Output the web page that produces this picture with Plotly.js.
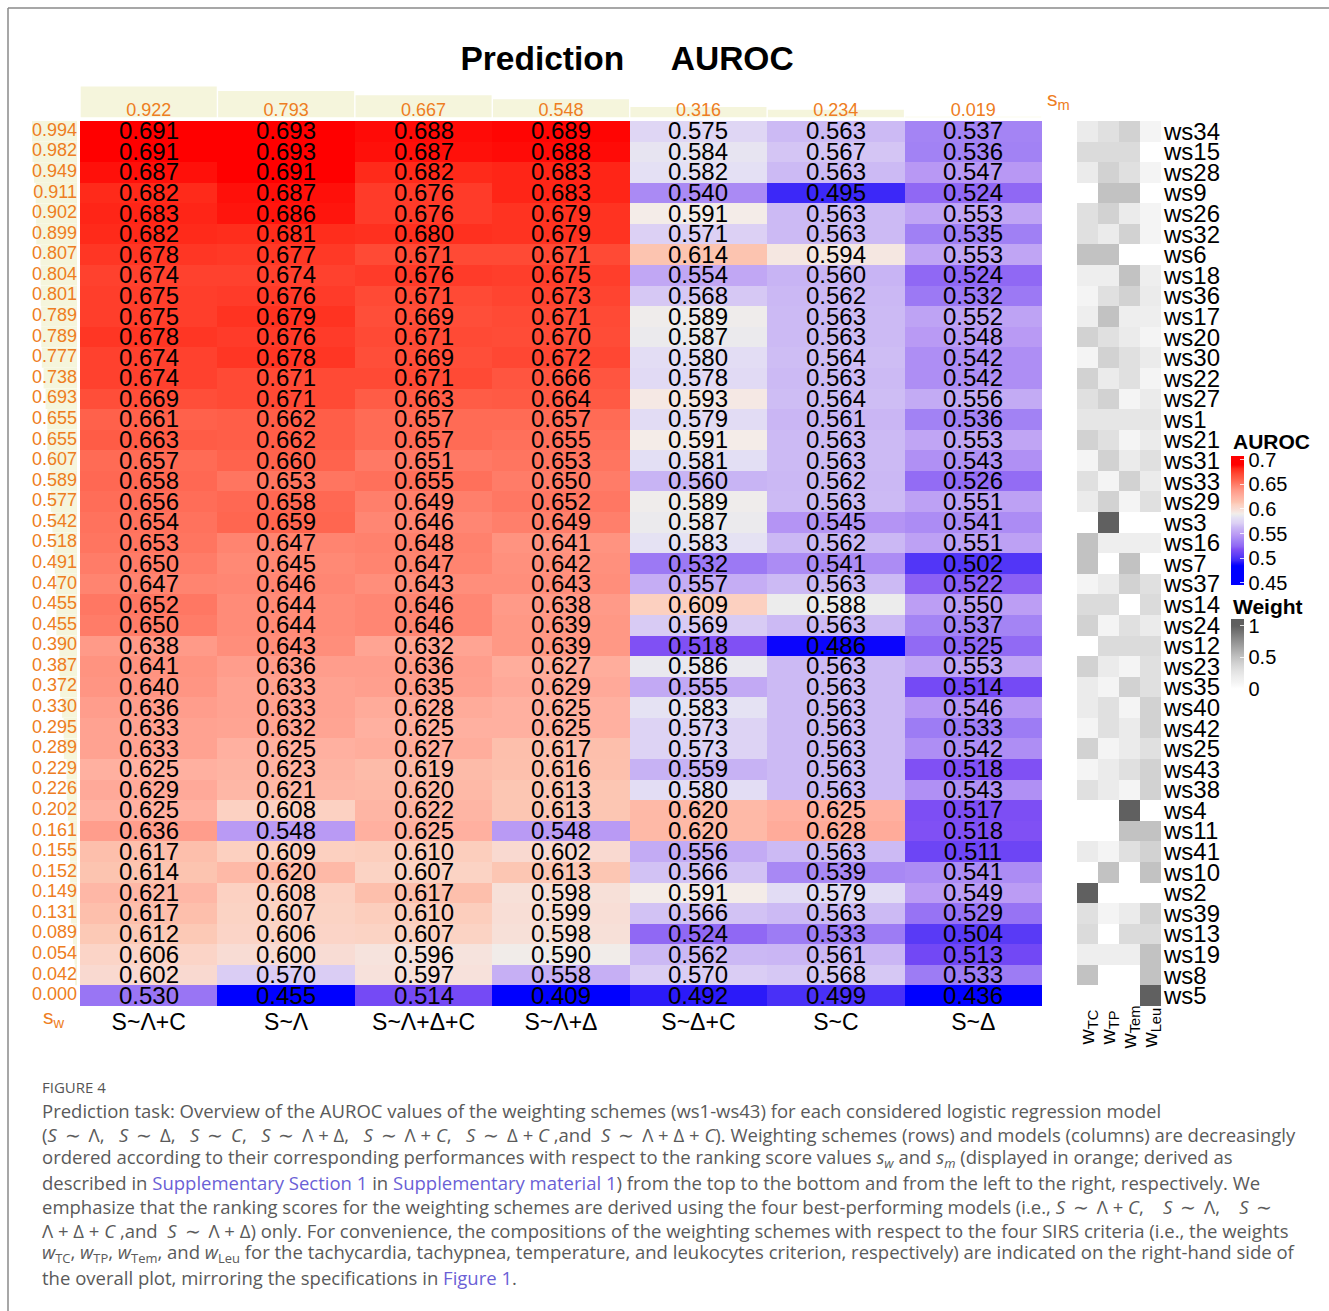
<!DOCTYPE html>
<html><head><meta charset="utf-8">
<script src="https://cdn.plot.ly/plotly-3.0.1.min.js"></script>
<style>html,body{margin:0;padding:0;background:#fff;} #chart{width:1329px;height:1311px;}</style>
</head><body><div id="chart"></div>
<script>
// ---------------- DATA ----------------
const models = ['S~Λ+C','S~Λ','S~Λ+Δ+C','S~Λ+Δ','S~Δ+C','S~C','S~Δ'];
const sm = [0.922,0.793,0.667,0.548,0.316,0.234,0.019];
const schemes = ['ws34','ws15','ws28','ws9','ws26','ws32','ws6','ws18','ws36','ws17','ws20','ws30','ws22','ws27','ws1','ws21','ws31','ws33','ws29','ws3','ws16','ws7','ws37','ws14','ws24','ws12','ws23','ws35','ws40','ws42','ws25','ws43','ws38','ws4','ws11','ws41','ws10','ws2','ws39','ws13','ws19','ws8','ws5'];
const sw = [0.994,0.982,0.949,0.911,0.902,0.899,0.807,0.804,0.801,0.789,0.789,0.777,0.738,0.693,0.655,0.655,0.607,0.589,0.577,0.542,0.518,0.491,0.470,0.455,0.455,0.390,0.387,0.372,0.330,0.295,0.289,0.229,0.226,0.202,0.161,0.155,0.152,0.149,0.131,0.089,0.054,0.042,0.000];
const aurocLC  = [0.691,0.691,0.687,0.682,0.683,0.682,0.678,0.674,0.675,0.675,0.678,0.674,0.674,0.669,0.661,0.663,0.657,0.658,0.656,0.654,0.653,0.650,0.647,0.652,0.650,0.638,0.641,0.640,0.636,0.633,0.633,0.625,0.629,0.625,0.636,0.617,0.614,0.621,0.617,0.612,0.606,0.602,0.530];
const aurocL   = [0.693,0.693,0.691,0.687,0.686,0.681,0.677,0.674,0.676,0.679,0.676,0.678,0.671,0.671,0.662,0.662,0.660,0.653,0.658,0.659,0.647,0.645,0.646,0.644,0.644,0.643,0.636,0.633,0.633,0.632,0.625,0.623,0.621,0.608,0.548,0.609,0.620,0.608,0.607,0.606,0.600,0.570,0.455];
const aurocLDC = [0.688,0.687,0.682,0.676,0.676,0.680,0.671,0.676,0.671,0.669,0.671,0.669,0.671,0.663,0.657,0.657,0.651,0.655,0.649,0.646,0.648,0.647,0.643,0.646,0.646,0.632,0.636,0.635,0.628,0.625,0.627,0.619,0.620,0.622,0.625,0.610,0.607,0.617,0.610,0.607,0.596,0.597,0.514];
const aurocLD  = [0.689,0.688,0.683,0.683,0.679,0.679,0.671,0.675,0.673,0.671,0.670,0.672,0.666,0.664,0.657,0.655,0.653,0.650,0.652,0.649,0.641,0.642,0.643,0.638,0.639,0.639,0.627,0.629,0.625,0.625,0.617,0.616,0.613,0.613,0.548,0.602,0.613,0.598,0.599,0.598,0.590,0.558,0.409];
const aurocDC  = [0.575,0.584,0.582,0.540,0.591,0.571,0.614,0.554,0.568,0.589,0.587,0.580,0.578,0.593,0.579,0.591,0.581,0.560,0.589,0.587,0.583,0.532,0.557,0.609,0.569,0.518,0.586,0.555,0.583,0.573,0.573,0.559,0.580,0.620,0.620,0.556,0.566,0.591,0.566,0.524,0.562,0.570,0.492];
const aurocC   = [0.563,0.567,0.563,0.495,0.563,0.563,0.594,0.560,0.562,0.563,0.563,0.564,0.563,0.564,0.561,0.563,0.563,0.562,0.563,0.545,0.562,0.541,0.563,0.588,0.563,0.486,0.563,0.563,0.563,0.563,0.563,0.563,0.563,0.625,0.628,0.563,0.539,0.579,0.563,0.533,0.561,0.568,0.499];
const aurocD   = [0.537,0.536,0.547,0.524,0.553,0.535,0.553,0.524,0.532,0.552,0.548,0.542,0.542,0.556,0.536,0.553,0.543,0.526,0.551,0.541,0.551,0.502,0.522,0.550,0.537,0.525,0.553,0.514,0.546,0.533,0.542,0.518,0.543,0.517,0.518,0.511,0.541,0.549,0.529,0.504,0.513,0.533,0.436];
const weightNames = ['TC','TP','Tem','Leu'];
const weightLabels = ['w<sub>TC</sub>','w<sub>TP</sub>','w<sub>Tem</sub>','w<sub>Leu</sub>'];
const wTC  = [0.2,0.333,0.2,0,0.3,0.3,0.5,0.167,0.1,0.167,0.4,0.1,0.4,0.3,0.25,0.4,0.1,0.3,0.2,0,0.5,0.5,0.1,0.333,0.4,0,0.4,0.2,0.2,0.1,0.4,0.1,0.3,0,0,0.2,0,1,0.3,0.333,0.167,0.5,0];
const wTP  = [0.3,0.333,0.4,0.5,0.4,0.2,0.5,0.167,0.3,0.5,0.3,0.4,0.2,0.4,0.25,0.3,0.4,0.1,0.4,1,0.167,0,0.2,0.333,0.1,0.333,0.2,0.1,0.3,0.3,0.1,0.2,0.2,0,0,0.1,0.5,0,0.1,0,0.167,0,0];
const wTem = [0.4,0.333,0.3,0.5,0.2,0.4,0,0.5,0.4,0.167,0.2,0.3,0.3,0.1,0.25,0.1,0.2,0.4,0.1,0,0.167,0.5,0.4,0,0.3,0.333,0.1,0.4,0.1,0.2,0.2,0.3,0.1,1,0.5,0.3,0,0,0.2,0.333,0.167,0,0];
const wLeu = [0.1,0,0.1,0,0.1,0.1,0,0.167,0.2,0.167,0.1,0.2,0.1,0.2,0.25,0.2,0.3,0.2,0.3,0,0.167,0,0.3,0.333,0.2,0.333,0.3,0.3,0.4,0.4,0.3,0.4,0.4,0,0.5,0.4,0.5,0,0.4,0.333,0.5,0.5,1];
const aurocTicks = [0.45,0.5,0.55,0.6,0.65,0.7];
const weightTicks = [0,0.5,1];

// ---------------- STYLE / GEOMETRY ----------------
const W = 1329, H = 1311;
const px = v => v / W;
const py = v => 1 - v / H;
const ORANGE = '#EE7D22';
const BEIGE = '#F5F5DC';
const FONT = 'Liberation Sans, Arial, Helvetica, sans-serif';
const CAPFONT = 'Open Sans, Noto Sans, sans-serif';
const LINK = '#6b5fd6';

function norm(stops, lo, hi) {
  const s = stops.map(p => [(p[0]-lo)/(hi-lo), p[1]]);
  s[0][0] = 0; s[s.length-1][0] = 1;
  return s;
}
const zmin = 0.445, zmax = 0.708;
const aurocScale = norm([[0.445,'#0000ff'],[0.484,'#0000ff'],[0.490,'#2010fa'],[0.495,'#3c28f8'],[0.505,'#5c3cf6'],[0.518,'#8050f4'],[0.524,'#9068f4'],[0.535,'#a080f4'],[0.547,'#b898f4'],[0.563,'#ccbaf4'],[0.571,'#dcd0f4'],[0.582,'#e4e0f4'],[0.588,'#ececec'],[0.591,'#f4ece8'],[0.600,'#f8dcd4'],[0.609,'#fcd0c0'],[0.614,'#fcc4b0'],[0.625,'#ffb0a0'],[0.638,'#ff9a88'],[0.650,'#ff7c68'],[0.662,'#ff5e48'],[0.671,'#ff4a35'],[0.682,'#ff2a1a'],[0.690,'#ff0000'],[0.708,'#ff0000']], zmin, zmax);
const wmin = -0.05, wmax = 1.11;
const grayScale = norm([[-0.05,'#ffffff'],[0,'#ffffff'],[0.1,'#f4f4f4'],[0.2,'#ebebeb'],[0.3,'#e0e0e0'],[0.4,'#d2d2d2'],[0.5,'#c2c2c2'],[0.75,'#929292'],[1,'#606060'],[1.11,'#5e5e5e']], wmin, wmax);

const columns = [aurocLC, aurocL, aurocLDC, aurocLD, aurocDC, aurocC, aurocD];
const z = schemes.map((_, i) => columns.map(c => c[i]));
const ztext = z.map(r => r.map(v => v.toFixed(3)));
const wz = schemes.map((_, i) => [wTC[i], wTP[i], wTem[i], wLeu[i]]);

const mainY = [py(1006), py(121)];
const nR = schemes.length, nC = models.length;

const traces = [
  {type:'heatmap', x: models, y: schemes, z: z, text: ztext, texttemplate:'%{text}',
   textfont:{size:24, color:'#000', family: FONT},
   colorscale: aurocScale, zmin: zmin, zmax: zmax, xaxis:'x', yaxis:'y', hoverinfo:'skip',
   colorbar:{x: px(1231), xanchor:'left', y: py(456), yanchor:'top', len:129, lenmode:'pixels',
     thickness:13, xpad:0, ypad:0, outlinewidth:0, tickvals: aurocTicks,
     ticktext: aurocTicks.map(String), ticks:'inside', tickcolor:'rgba(255,255,255,0.8)', ticklen:4,
     tickfont:{size:20, color:'#000', family: FONT}, title:{text:''}}},
  {type:'heatmap', x: weightNames, y: schemes, z: wz, colorscale: grayScale, zmin: wmin, zmax: wmax,
   xaxis:'x4', yaxis:'y4', hoverinfo:'skip',
   colorbar:{x: px(1231), xanchor:'left', y: py(619), yanchor:'top', len:73, lenmode:'pixels',
     thickness:13, xpad:0, ypad:0, outlinewidth:0, tickvals: weightTicks,
     ticktext: weightTicks.map(String), ticks:'inside', tickcolor:'rgba(255,255,255,0.8)', ticklen:4,
     tickfont:{size:20, color:'#000', family: FONT}, title:{text:''}}},
  {type:'bar', x: models, y: sm, marker:{color: BEIGE, line:{width:0}}, xaxis:'x2', yaxis:'y2', hoverinfo:'skip'},
  {type:'scatter', mode:'text', x: models, y: models.map(() => 0.17), text: sm.map(v => v.toFixed(3)),
   textposition:'middle center', textfont:{size:18, color: ORANGE, family: FONT}, xaxis:'x2', yaxis:'y2',
   cliponaxis:false, hoverinfo:'skip'},
  {type:'bar', orientation:'h', y: schemes, x: sw, marker:{color: BEIGE, line:{width:0}}, xaxis:'x3', yaxis:'y3', hoverinfo:'skip'},
  {type:'scatter', mode:'text', y: schemes, x: schemes.map(() => 0), text: sw.map(v => v.toFixed(3)),
   textposition:'middle left', textfont:{size:18, color: ORANGE, family: FONT}, xaxis:'x3', yaxis:'y3',
   cliponaxis:false, hoverinfo:'skip'}
];

const noAx = {showgrid:false, zeroline:false, showline:false, ticks:'', showticklabels:false};
const L = (s, o) => Object.assign({}, s, o || {});

const tl = '\u2009∼\u2009';
const caption = [
  'Prediction task: Overview of the AUROC values of the weighting schemes (ws1-ws43) for each considered logistic regression model',
  `(<i>S</i> ${tl} Λ,\u00a0\u00a0 <i>S</i> ${tl} Δ,\u00a0\u00a0 <i>S</i> ${tl} <i>C</i>,\u00a0\u00a0 <i>S</i> ${tl} Λ + Δ,\u00a0\u00a0 <i>S</i> ${tl} Λ + <i>C</i>,\u00a0\u00a0 <i>S</i> ${tl} Δ + <i>C</i> ,and\u00a0 <i>S</i> ${tl} Λ + Δ + <i>C</i>). Weighting schemes (rows) and models (columns) are decreasingly`,
  'ordered according to their corresponding performances with respect to the ranking score values <i>s</i><sub><i>w</i></sub> and <i>s</i><sub><i>m</i></sub> (displayed in orange; derived as',
  `described in <span style='color:${LINK}'>Supplementary Section 1</span> in <span style='color:${LINK}'>Supplementary material 1</span>) from the top to the bottom and from the left to the right, respectively. We`,
  `emphasize that the ranking scores for the weighting schemes are derived using the four best-performing models (i.e., <i>S</i> ${tl} Λ + <i>C</i>,\u00a0\u00a0\u00a0 <i>S</i> ${tl} Λ,\u00a0\u00a0\u00a0 <i>S</i> ${tl}`,
  `Λ + Δ + <i>C</i> ,and\u00a0 <i>S</i> ${tl} Λ + Δ) only. For convenience, the compositions of the weighting schemes with respect to the four SIRS criteria (i.e., the weights`,
  '<i>w</i><sub>TC</sub>, <i>w</i><sub>TP</sub>, <i>w</i><sub>Tem</sub>, and <i>w</i><sub>Leu</sub> for the tachycardia, tachypnea, temperature, and leukocytes criterion, respectively) are indicated on the right-hand side of',
  `the overall plot, mirroring the specifications in <span style='color:${LINK}'>Figure 1</span>.`
];
const capY = [1110, 1134, 1158, 1182, 1206, 1230, 1253, 1277];

const annotations = [
  {xref:'paper', yref:'paper', x: px(1058), y: py(100), xanchor:'center', yanchor:'middle', text:'s<sub>m</sub>', showarrow:false, font:{size:21, color: ORANGE, family: FONT}},
  {xref:'paper', yref:'paper', x: px(54), y: py(1018), xanchor:'center', yanchor:'middle', text:'s<sub>w</sub>', showarrow:false, font:{size:21, color: ORANGE, family: FONT}},
  {xref:'paper', yref:'paper', x: px(1231), y: py(441), xanchor:'left', yanchor:'middle', text:'<b>AUROC</b>', showarrow:false, font:{size:21, color:'#000', family: FONT}},
  {xref:'paper', yref:'paper', x: px(1231), y: py(607), xanchor:'left', yanchor:'middle', text:'<b>Weight</b>', showarrow:false, font:{size:21, color:'#000', family: FONT}},
  {xref:'paper', yref:'paper', x: px(40), y: py(1087), xanchor:'left', yanchor:'middle', text:'FIGURE 4', showarrow:false, font:{size:15, color:'#555', family: CAPFONT}}
];
weightNames.forEach((n, i) => annotations.push({xref:'x4', yref:'paper', x: n, y: py(1028), xanchor:'center', yanchor:'middle', text: weightLabels[i],
  textangle:-90, showarrow:false, font:{size:21, color:'#000', family: FONT}}));
caption.forEach((t, i) => annotations.push({xref:'paper', yref:'paper', x: px(40), y: py(capY[i]), xanchor:'left', yanchor:'middle', align:'left',
  text: t, showarrow:false, font:{size:18.5, color:'#5a5a5a', family: CAPFONT}}));

const layout = {
  width: W, height: H, margin:{l:0, r:0, t:0, b:0}, paper_bgcolor:'#fff', plot_bgcolor:'rgba(0,0,0,0)',
  showlegend:false, bargap:0.01,
  title:{text:'<b>Prediction\u00a0\u00a0\u00a0\u00a0\u00a0AUROC</b>', x: px(627), xanchor:'center', xref:'paper', yref:'paper', y: py(58), yanchor:'middle',
    font:{size:33.5, color:'#000', family: FONT}},
  xaxis: L(noAx, {domain:[px(80), px(1042)], anchor:'y', type:'category', categoryorder:'array', categoryarray: models, range:[-0.5, nC-0.5],
    showticklabels:true, tickfont:{size:23, color:'#000', family: FONT}}),
  yaxis: L(noAx, {domain: mainY, anchor:'x', type:'category', categoryorder:'array', categoryarray: schemes, range:[nR-0.5, -0.5]}),
  xaxis2: L(noAx, {domain:[px(80), px(1042)], anchor:'y2', type:'category', categoryorder:'array', categoryarray: models, range:[-0.5, nC-0.5]}),
  yaxis2: L(noAx, {domain:[py(117.5), py(84)], anchor:'x2', range:[0, 1]}),
  xaxis3: L(noAx, {domain:[px(31.7), px(77)], anchor:'y3', range:[1, 0]}),
  yaxis3: L(noAx, {domain: mainY, anchor:'x3', type:'category', categoryorder:'array', categoryarray: schemes, range:[nR-0.5, -0.5]}),
  xaxis4: L(noAx, {domain:[px(1077), px(1161)], anchor:'y4', type:'category', categoryorder:'array', categoryarray: weightNames, range:[-0.5, 3.5]}),
  yaxis4: L(noAx, {domain: mainY, anchor:'x4', side:'right', type:'category', categoryorder:'array', categoryarray: schemes, range:[nR-0.5, -0.5],
    showticklabels:true, tickmode:'array', tickvals: schemes, ticktext: schemes, ticklabelstandoff:2,
    tickfont:{size:24, color:'#000', family: FONT}}),
  annotations: annotations,
  shapes: [
    {type:'line', xref:'paper', yref:'paper', x0: px(8), x1: 1, y0: py(8), y1: py(8), line:{color:'#8a8a8a', width:1.5}},
    {type:'line', xref:'paper', yref:'paper', x0: px(8), x1: px(8), y0: py(8), y1: 0, line:{color:'#8a8a8a', width:1.5}}
  ]
};

Plotly.newPlot('chart', traces, layout, {displayModeBar:false, staticPlot:true});
</script></body></html>
